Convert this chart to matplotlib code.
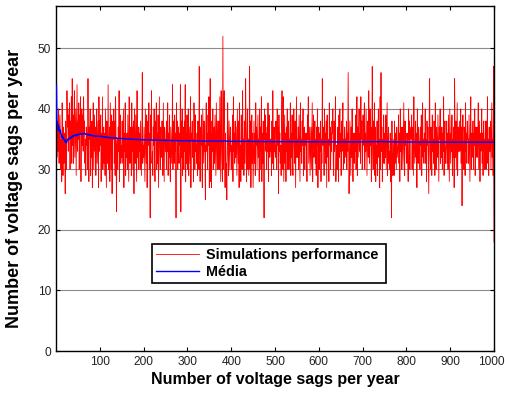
import numpy as np
import matplotlib
matplotlib.use("Agg")
import matplotlib.pyplot as plt
from matplotlib.transforms import ScaledTranslation

plt.rcParams["font.family"] = ["Liberation Sans", "DejaVu Sans"]

# Simulated number of voltage sags per year, one value per simulation
sims = np.array([
    44, 32, 36, 38, 33, 40, 31, 36, 39, 36, 30, 35, 28, 41, 33, 29, 37, 31, 34, 36,
    26, 38, 32, 30, 43, 37, 40, 33, 39, 35, 41, 30, 38, 35, 42, 31, 45, 34, 39, 31,
    38, 43, 32, 36, 40, 29, 37, 44, 33, 38, 35, 41, 30, 39, 36, 42, 28, 37, 40, 34,
    39, 33, 42, 36, 38, 31, 35, 29, 37, 34, 36, 30, 45, 33, 28, 37, 35, 40, 29, 35,
    32, 38, 27, 36, 41, 30, 34, 39, 33, 37, 29, 36, 40, 31, 35, 38, 27, 42, 33, 38,
    34, 39, 28, 36, 31, 42, 30, 35, 37, 31, 36, 29, 40, 33, 27, 38, 35, 31, 44, 30,
    33, 37, 28, 41, 35, 30, 39, 26, 36, 38, 35, 40, 31, 38, 29, 42, 36, 23, 34, 35,
    30, 37, 33, 43, 28, 36, 39, 31, 34, 32, 38, 31, 35, 40, 27, 36, 33, 41, 29, 34,
    32, 36, 30, 39, 34, 28, 42, 35, 31, 37, 35, 29, 41, 33, 37, 30, 38, 26, 40, 34,
    31, 39, 34, 28, 43, 32, 36, 30, 37, 33, 36, 30, 38, 33, 29, 35, 46, 31, 34, 32,
    37, 33, 28, 40, 35, 31, 39, 27, 36, 38, 34, 41, 30, 36, 22, 39, 35, 43, 31, 33,
    29, 37, 34, 40, 32, 28, 38, 35, 41, 30, 36, 31, 39, 27, 35, 42, 33, 30, 37, 33,
    32, 38, 35, 29, 41, 34, 28, 37, 36, 33, 35, 30, 38, 33, 41, 29, 36, 32, 39, 31,
    28, 37, 34, 31, 36, 44, 30, 35, 38, 31, 39, 33, 36, 22, 41, 35, 38, 30, 37, 33,
    31, 36, 34, 44, 23, 38, 32, 40, 29, 37, 35, 30, 38, 33, 44, 28, 36, 31, 39, 30,
    33, 40, 29, 37, 34, 31, 42, 27, 36, 35, 38, 32, 35, 28, 41, 34, 30, 39, 33, 34,
    31, 36, 29, 38, 33, 30, 47, 35, 28, 37, 34, 39, 32, 27, 40, 36, 31, 38, 33, 34,
    25, 37, 41, 33, 36, 30, 39, 34, 42, 27, 32, 45, 28, 36, 27, 38, 33, 40, 30, 35,
    37, 31, 39, 34, 29, 41, 35, 30, 38, 30, 33, 38, 30, 42, 35, 28, 43, 36, 31, 28,
    52, 30, 38, 43, 33, 27, 36, 29, 31, 25, 36, 41, 32, 29, 38, 34, 30, 37, 33, 34,
    30, 35, 39, 28, 42, 33, 36, 31, 38, 32, 37, 33, 29, 40, 35, 31, 38, 27, 41, 33,
    34, 28, 39, 36, 30, 43, 32, 35, 29, 38, 31, 37, 45, 33, 28, 36, 40, 30, 35, 29,
    35, 47, 30, 38, 27, 34, 39, 31, 36, 27, 33, 38, 31, 36, 29, 41, 34, 37, 30, 35,
    39, 32, 35, 28, 40, 33, 37, 30, 42, 28, 36, 31, 38, 34, 22, 40, 35, 39, 33, 36,
    30, 37, 33, 41, 28, 36, 39, 32, 35, 33, 35, 29, 38, 31, 43, 34, 30, 37, 33, 34,
    32, 38, 35, 30, 40, 34, 37, 26, 39, 33, 36, 31, 34, 29, 38, 43, 33, 30, 42, 28,
    34, 39, 31, 36, 28, 37, 33, 40, 30, 36, 38, 30, 35, 33, 41, 29, 36, 32, 39, 31,
    29, 36, 40, 34, 31, 38, 27, 35, 42, 32, 35, 32, 37, 30, 39, 34, 28, 41, 33, 35,
    31, 38, 34, 40, 29, 35, 37, 30, 36, 34, 36, 33, 28, 39, 35, 42, 31, 34, 37, 29,
    33, 37, 30, 36, 41, 28, 35, 39, 32, 33, 38, 31, 35, 29, 37, 34, 40, 27, 36, 37,
    30, 36, 33, 38, 28, 35, 31, 45, 34, 34, 37, 29, 40, 33, 36, 31, 38, 27, 39, 34,
    32, 35, 28, 41, 34, 37, 30, 36, 33, 38, 36, 40, 31, 29, 38, 33, 35, 42, 28, 32,
    34, 30, 37, 35, 28, 39, 32, 40, 33, 36, 29, 38, 33, 36, 41, 30, 35, 31, 37, 34,
    35, 32, 38, 30, 36, 33, 46, 37, 26, 31, 38, 34, 29, 37, 32, 40, 35, 28, 36, 35,
    31, 36, 33, 39, 30, 35, 42, 29, 37, 32, 37, 40, 33, 36, 31, 42, 35, 38, 30, 32,
    39, 34, 37, 41, 30, 36, 33, 40, 35, 29, 36, 38, 32, 43, 35, 31, 40, 34, 37, 28,
    33, 47, 36, 30, 38, 35, 41, 29, 37, 28, 34, 31, 38, 29, 36, 40, 32, 35, 27, 42,
    30, 46, 33, 37, 28, 35, 31, 39, 34, 31, 36, 32, 39, 30, 35, 41, 29, 34, 37, 31,
    33, 30, 36, 28, 35, 22, 38, 31, 29, 32, 35, 29, 38, 31, 36, 33, 30, 37, 32, 33,
    34, 39, 31, 36, 28, 40, 33, 37, 30, 36, 37, 30, 35, 41, 32, 29, 38, 34, 36, 32,
    31, 36, 33, 28, 40, 35, 38, 30, 37, 36, 35, 39, 30, 37, 33, 29, 42, 34, 31, 34,
    38, 32, 36, 27, 40, 34, 31, 37, 35, 34, 30, 37, 34, 39, 29, 36, 41, 32, 35, 31,
    36, 33, 40, 31, 35, 28, 38, 34, 37, 32, 26, 38, 45, 33, 30, 37, 34, 29, 39, 33,
    35, 31, 38, 36, 29, 41, 33, 30, 37, 34, 32, 39, 34, 28, 37, 35, 40, 31, 36, 32,
    37, 30, 36, 33, 42, 29, 35, 38, 31, 33, 34, 38, 31, 36, 30, 39, 33, 28, 40, 35,
    31, 36, 33, 39, 29, 35, 32, 37, 27, 45, 36, 32, 38, 30, 35, 41, 29, 37, 33, 33,
    38, 33, 36, 40, 31, 37, 24, 35, 39, 31, 30, 37, 34, 29, 41, 33, 36, 31, 38, 35,
    35, 31, 39, 34, 28, 37, 42, 30, 36, 32, 33, 38, 30, 36, 34, 40, 29, 37, 32, 35,
    37, 32, 35, 41, 30, 34, 38, 28, 36, 33, 34, 40, 31, 36, 29, 38, 33, 35, 30, 38,
    36, 30, 38, 33, 42, 31, 35, 29, 37, 33, 33, 38, 30, 36, 41, 32, 35, 29, 47, 18,
])
runs = np.arange(1, len(sims) + 1)
# running average of the simulations ("Média")
media = np.cumsum(sims) / runs

fig = plt.figure(figsize=(5.06, 3.94), dpi=100)
ax = fig.add_axes([0.1107, 0.1091, 0.8656, 0.8757])

ax.plot(runs, sims, color="red", lw=0.6, label="Simulations performance")
ax.plot(runs, media, color="blue", lw=1.0, label="Média", zorder=3)

ax.set_xlim(0, 1000)
ax.set_ylim(0, 57)
ax.set_xticks(range(100, 1001, 100))
ax.set_yticks(range(0, 51, 10))
ax.tick_params(direction="in", top=True, right=True, length=3,
               labelsize=8.6, colors="black", labelcolor="#222222")
ax.grid(axis="y", color="#8c8c8c", lw=0.8)
for s in ax.spines.values():
    s.set_linewidth(1.0)

# "1000" sits right at the figure edge; nudge it a hair left so it is not clipped
fig.canvas.draw()
last = ax.get_xticklabels()[-1]
last.set_transform(last.get_transform() + ScaledTranslation(-2 / 72, 0, fig.dpi_scale_trans))

ax.set_xlabel("Number of voltage sags per year", fontsize=11.5, fontweight="bold", labelpad=3)
ax.set_ylabel("Number of voltage sags per year", fontsize=13, fontweight="bold")
ax.yaxis.set_label_coords(-0.076, 0.472)

leg = ax.legend(loc="lower left", bbox_to_anchor=(0.219, 0.197, 0.534, 0.125), mode="expand",
                fancybox=False, edgecolor="black", framealpha=1,
                prop={"weight": "bold", "size": 10.4}, handlelength=3.0, handletextpad=0.5,
                borderaxespad=0, borderpad=0.25, labelspacing=0.25)
leg.get_frame().set_linewidth(1.2)

fig.savefig("out.png", dpi=100)
